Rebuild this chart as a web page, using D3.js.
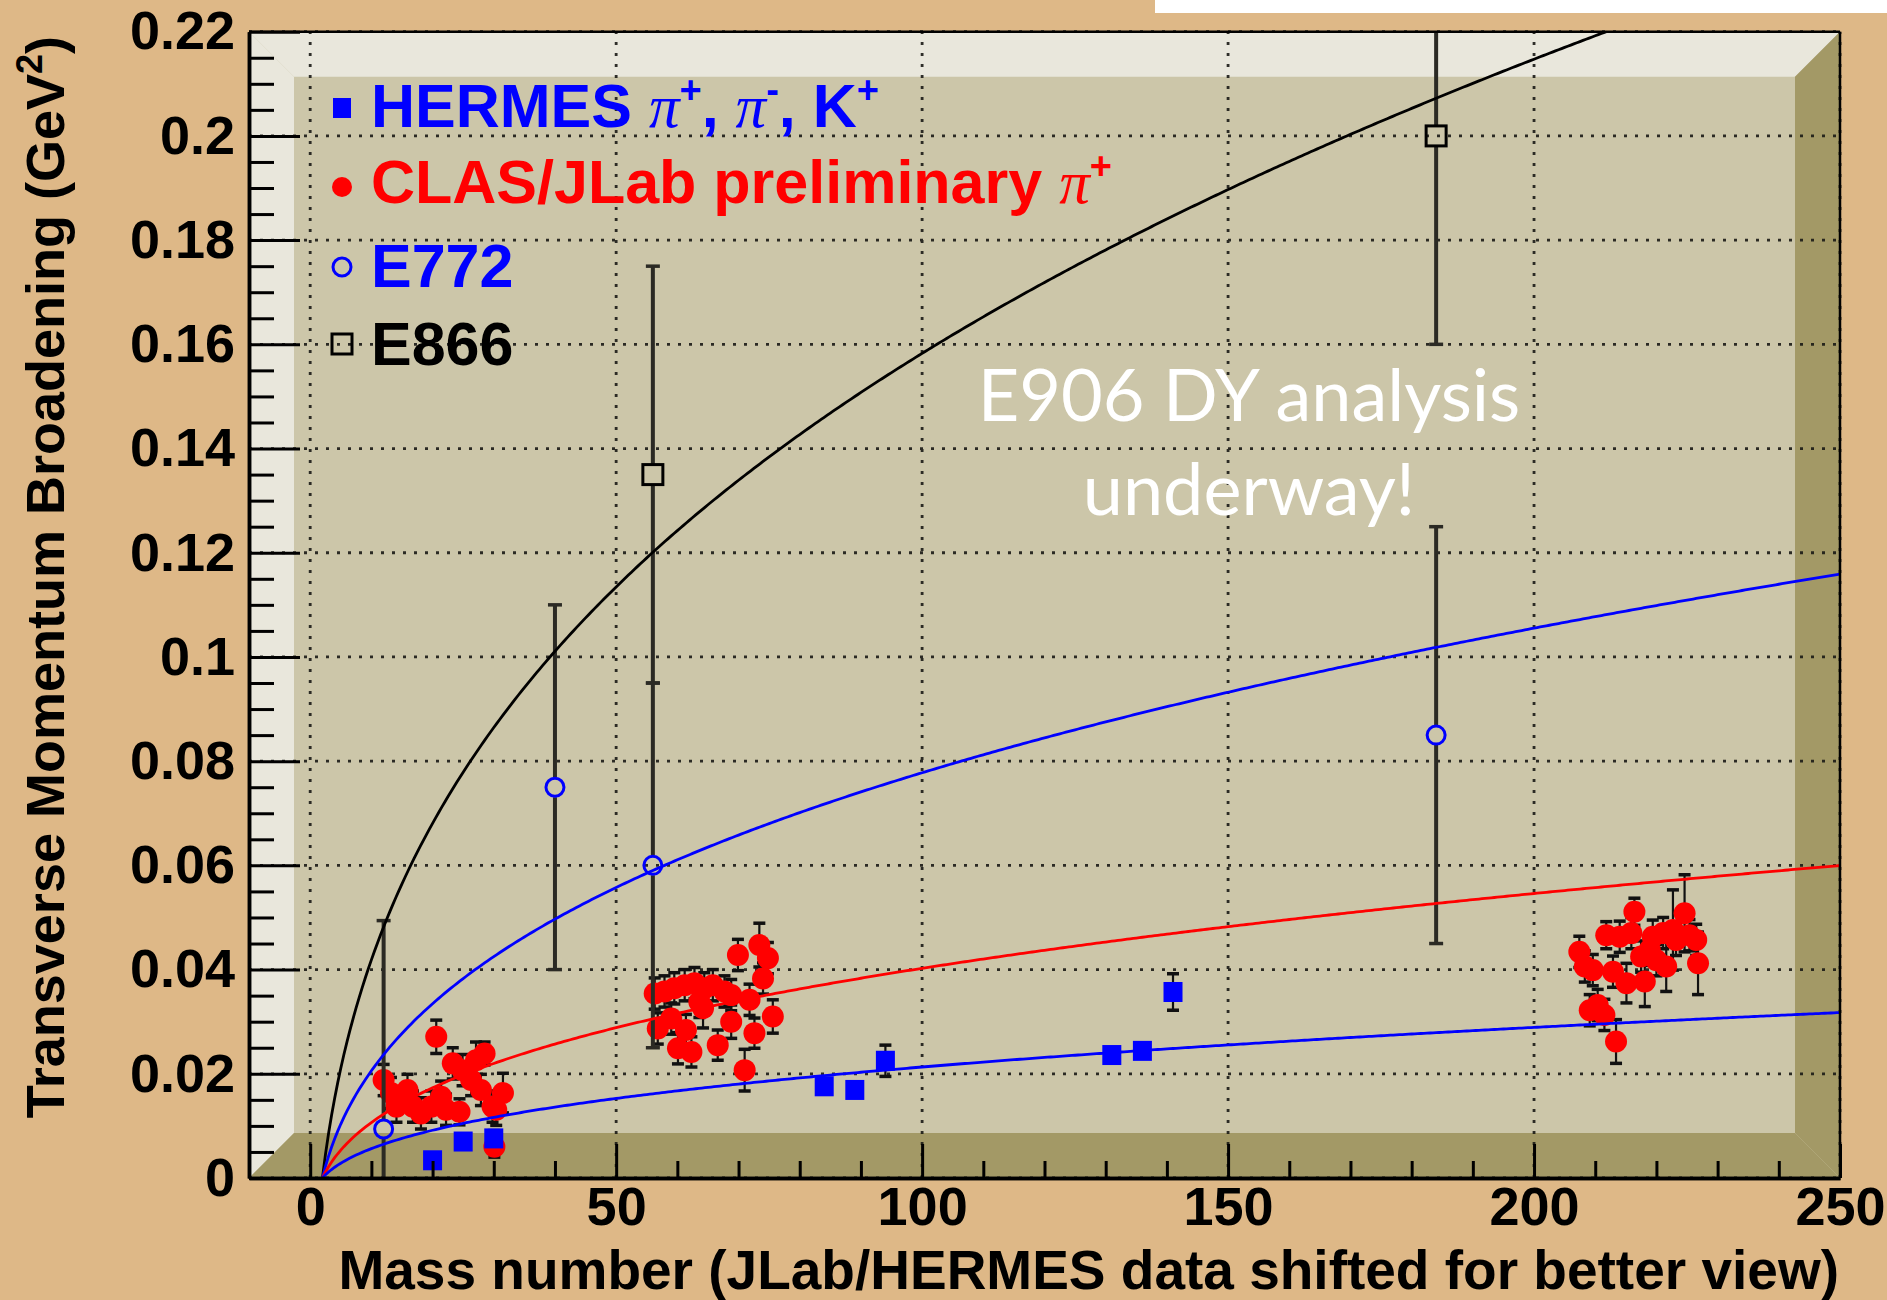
<!DOCTYPE html>
<html>
<head>
<meta charset="utf-8">
<script src="https://cdn.jsdelivr.net/npm/d3@7"></script>
<style>
  html, body { margin: 0; padding: 0; background: #DEB887; }
  svg { display: block; }
</style>
</head>
<body>
<svg id="chart" width="1887" height="1300"></svg>
<script>
// ---------------- data ----------------
const xTickValues = [0, 50, 100, 150, 200, 250];
const xTickLabels = ["0", "50", "100", "150", "200", "250"];
const yTickValues = [0, 0.02, 0.04, 0.06, 0.08, 0.1, 0.12, 0.14, 0.16, 0.18, 0.2, 0.22];
const yTickLabels = ["0", "0.02", "0.04", "0.06", "0.08", "0.1", "0.12", "0.14", "0.16", "0.18", "0.2", "0.22"];

// HERMES pi+, pi-, K+ (mass numbers shifted per hadron)
const hermesA   = [20, 25, 30, 84, 89, 94, 131, 136, 141];
const hermesY   = [0.0034, 0.0070, 0.0076, 0.0176, 0.0169, 0.0225, 0.0236, 0.0244, 0.0357];
const hermesErr = [0.001, 0.001, 0.0015, 0.001, 0.001, 0.003, 0.001, 0.001, 0.0035];

// CLAS/JLab preliminary pi+ (C, Fe, Pb bins, shifted along A)
const clasA = [
  12.0, 13.2, 14.1, 15.9, 16.8, 18.1, 19.8, 20.6, 21.4, 22.2, 23.3, 24.4, 24.9, 26.3, 27.1, 27.9, 28.5, 29.8, 30.4, 31.5, 30.1,
  56.3, 56.8, 57.9, 59.0, 59.5, 60.1, 61.2, 61.4, 62.3, 62.8, 63.6, 64.2, 64.4, 65.8, 66.6, 67.7, 68.8, 68.8, 69.9, 71.0, 71.8, 72.6, 73.4, 74.0, 74.8, 75.6,
  207.4, 208.3, 209.1, 209.6, 210.4, 211.5, 211.8, 212.9, 213.4, 214.0, 215.1, 215.9, 216.4, 217.5, 218.1, 218.9, 219.4, 220.0, 221.1, 221.6, 222.7, 223.2, 224.6, 225.4, 226.5, 226.8
];
const clasY = [
  0.0188, 0.0163, 0.0137, 0.0169, 0.0137, 0.0124, 0.0137, 0.0271, 0.0156, 0.0131, 0.0220, 0.0127, 0.0207, 0.0188, 0.0226, 0.0169, 0.0239, 0.0137, 0.0131, 0.0163, 0.0060,
  0.0354, 0.0287, 0.0358, 0.0306, 0.0364, 0.0249, 0.0370, 0.0284, 0.0242, 0.0374, 0.0338, 0.0326, 0.0364, 0.0370, 0.0255, 0.0358, 0.0351, 0.0300, 0.0428, 0.0207, 0.0342, 0.0278, 0.0447, 0.0383, 0.0422, 0.0310,
  0.0434, 0.0406, 0.0322, 0.0399, 0.0332, 0.0313, 0.0466, 0.0396, 0.0262, 0.0463, 0.0374, 0.0470, 0.0511, 0.0425, 0.0377, 0.0438, 0.0463, 0.0418, 0.0470, 0.0406, 0.0476, 0.0457, 0.0508, 0.0466, 0.0457, 0.0412
];
const clasErr = [
  0.003, 0.003, 0.003, 0.003, 0.003, 0.003, 0.003, 0.0032, 0.003, 0.003, 0.003, 0.0025, 0.003, 0.003, 0.0035, 0.003, 0.0022, 0.003, 0.003, 0.0038, 0.002,
  0.003, 0.003, 0.003, 0.003, 0.003, 0.003, 0.003, 0.003, 0.0029, 0.003, 0.003, 0.0038, 0.003, 0.003, 0.0029, 0.003, 0.003, 0.0032, 0.003, 0.004, 0.003, 0.0029, 0.0042, 0.003, 0.003, 0.0032,
  0.003, 0.003, 0.003, 0.003, 0.003, 0.003, 0.0026, 0.003, 0.0042, 0.003, 0.0038, 0.003, 0.0026, 0.003, 0.0048, 0.003, 0.0032, 0.003, 0.003, 0.0048, 0.0077, 0.003, 0.0074, 0.003, 0.003, 0.006
];

// Drell-Yan: E772 and E866
const e772A   = [12, 40, 56, 184];
const e772Y   = [0.0094, 0.075, 0.06, 0.085];
const e772Err = [0.04, 0.035, 0.035, 0.04];

const e866A   = [56, 184];
const e866Y   = [0.135, 0.2];
const e866Err = [0.04, 0.04];

// Broadening curves: c * (A^(1/3) - A0^(1/3)), starting at A0 = 2
const curveNames = ["E866", "E772", "CLAS", "HERMES"];
const curveCoeff = [0.0468, 0.0230, 0.0119, 0.0063];
const curveA0 = 2;
const curveAmax = 250;

const legendNames = ["HERMES", "CLAS/JLab preliminary", "E772", "E866"];
const xTitle = "Mass number (JLab/HERMES data shifted for better view)";
const yTitle = "Transverse Momentum Broadening (GeV";
const noteLines = ["E906 DY analysis", "underway!"];

// ---------------- styles ----------------
const colors = { HERMES: "#0000ff", CLAS: "#ff0000", E772: "#0000ff", E866: "#000000" };
const curveColors = { E866: "#000000", E772: "#0000ff", CLAS: "#ff0000", HERMES: "#0000ff" };
const SANS = "'Liberation Sans', Arial, Helvetica, sans-serif";
const SERIF = "'Liberation Serif', 'Times New Roman', serif";

// ---------------- layout ----------------
const svg = d3.select("#chart");
const W = 1887, H = 1300;
const L = 249, R = 1840, T = 31.7, B = 1178;
const bevel = 45;

const x = d3.scaleLinear().domain([-10, 250]).range([L, R]);
const y = d3.scaleLinear().domain([0, 0.22]).range([B, T]);

svg.append("rect").attr("width", W).attr("height", H).attr("fill", "#DEB887");
svg.append("rect").attr("x", 1155).attr("y", 0).attr("width", W - 1155).attr("height", 13).attr("fill", "#ffffff");

// frame with bevelled border
const frame = svg.append("g");
frame.append("rect").attr("x", L).attr("y", T).attr("width", R - L).attr("height", B - T).attr("fill", "#CCC6A9");
const poly = pts => pts.map(p => p.join(",")).join(" ");
frame.append("polygon").attr("fill", "#E9E7DC")
  .attr("points", poly([[L, T], [R, T], [R - bevel, T + bevel], [L + bevel, T + bevel]]));
frame.append("polygon").attr("fill", "#E9E7DC")
  .attr("points", poly([[L, T], [L + bevel, T + bevel], [L + bevel, B - bevel], [L, B]]));
frame.append("polygon").attr("fill", "#A39966")
  .attr("points", poly([[L, B], [L + bevel, B - bevel], [R - bevel, B - bevel], [R, B]]));
frame.append("polygon").attr("fill", "#A39966")
  .attr("points", poly([[R, T], [R, B], [R - bevel, B - bevel], [R - bevel, T + bevel]]));

// grid
const grid = svg.append("g").attr("stroke", "#1a1a16").attr("stroke-width", 2.8)
  .attr("stroke-dasharray", "3,8").attr("opacity", 0.9);
grid.selectAll("line.gx").data(xTickValues).join("line").attr("class", "gx")
  .attr("x1", d => x(d)).attr("x2", d => x(d)).attr("y1", B).attr("y2", T);
grid.selectAll("line.gy").data(yTickValues).join("line").attr("class", "gy")
  .attr("x1", L).attr("x2", R).attr("y1", d => y(d)).attr("y2", d => y(d));

// clip region for data and curves
svg.append("clipPath").attr("id", "plotClip")
  .append("rect").attr("x", L).attr("y", T).attr("width", R - L).attr("height", B - T);
const plot = svg.append("g").attr("clip-path", "url(#plotClip)");

// error bars
function errorBars(g, A, Y, E, opts) {
  const idx = d3.range(A.length);
  const gg = g.append("g").attr("stroke", opts.color);
  idx.forEach(i => {
    const cx = x(A[i]);
    const yTop = y(Y[i] + E[i]), yBot = y(Y[i] - E[i]);
    const yc = y(Y[i]);
    gg.append("line").attr("x1", cx).attr("x2", cx).attr("y1", yTop).attr("y2", yc - opts.gap).attr("stroke-width", opts.width);
    gg.append("line").attr("x1", cx).attr("x2", cx).attr("y1", yc + opts.gap).attr("y2", yBot).attr("stroke-width", opts.width);
    [yTop, yBot].forEach(yy => {
      gg.append("line").attr("x1", cx - opts.cap / 2).attr("x2", cx + opts.cap / 2)
        .attr("y1", yy).attr("y2", yy).attr("stroke-width", opts.capWidth);
    });
  });
}

// CLAS points
errorBars(plot, clasA, clasY, clasErr, { color: "#111", width: 2.2, gap: 0, cap: 12, capWidth: 3.5 });
plot.append("g").selectAll("circle").data(d3.range(clasA.length)).join("circle")
  .attr("cx", i => x(clasA[i])).attr("cy", i => y(clasY[i])).attr("r", 11)
  .attr("fill", colors.CLAS);

// HERMES points
errorBars(plot, hermesA, hermesY, hermesErr, { color: "#111", width: 2.2, gap: 0, cap: 12, capWidth: 3.5 });
plot.append("g").selectAll("rect").data(d3.range(hermesA.length)).join("rect")
  .attr("x", i => x(hermesA[i]) - 9.5).attr("y", i => y(hermesY[i]) - 10)
  .attr("width", 19).attr("height", 20).attr("fill", colors.HERMES);

// E772 and E866
errorBars(plot, e772A, e772Y, e772Err, { color: "#2b2a24", width: 4, gap: 10, cap: 14, capWidth: 3.5 });
errorBars(plot, e866A, e866Y, e866Err, { color: "#2b2a24", width: 4, gap: 10, cap: 14, capWidth: 3.5 });
plot.append("g").selectAll("circle").data(d3.range(e772A.length)).join("circle")
  .attr("cx", i => x(e772A[i])).attr("cy", i => y(e772Y[i])).attr("r", 9)
  .attr("fill", "none").attr("stroke", colors.E772).attr("stroke-width", 3);
plot.append("g").selectAll("rect").data(d3.range(e866A.length)).join("rect")
  .attr("x", i => x(e866A[i]) - 10).attr("y", i => y(e866Y[i]) - 10)
  .attr("width", 20).attr("height", 20)
  .attr("fill", "none").attr("stroke", colors.E866).attr("stroke-width", 3);

// broadening curves
const curveSamples = d3.range(curveA0, curveAmax + 0.001, 0.5);
const cbrtA0 = Math.cbrt(curveA0);
curveNames.forEach((name, k) => {
  const line = d3.line()
    .x(a => x(a))
    .y(a => y(curveCoeff[k] * (Math.cbrt(a) - cbrtA0)));
  plot.append("path").attr("d", line(curveSamples))
    .attr("fill", "none").attr("stroke", curveColors[name]).attr("stroke-width", 2.8);
});

// axes
const fmtX = d => xTickLabels[xTickValues.indexOf(d)];
const fmtY = d => yTickLabels[yTickValues.indexOf(d)];
const yMinor = d3.range(0, 0.2201, 0.005).filter(v => !yTickValues.some(t => Math.abs(t - v) < 1e-9));
const xMinor = d3.range(-10, 250.1, 10).filter(v => xTickValues.indexOf(v) < 0 && v > -10);

const yAxis = svg.append("g").attr("transform", `translate(${L},0)`)
  .call(d3.axisLeft(y).tickValues(yTickValues).tickFormat(fmtY).tickSize(-51).tickSizeOuter(0).tickPadding(14));
const yAxisMinor = svg.append("g").attr("transform", `translate(${L},0)`)
  .call(d3.axisLeft(y).tickValues(yMinor).tickFormat("").tickSize(-25).tickSizeOuter(0));
const xAxis = svg.append("g").attr("transform", `translate(0,${B})`)
  .call(d3.axisBottom(x).tickValues(xTickValues).tickFormat(fmtX).tickSize(-34).tickSizeOuter(0).tickPadding(9));
const xAxisMinor = svg.append("g").attr("transform", `translate(0,${B})`)
  .call(d3.axisBottom(x).tickValues(xMinor).tickFormat("").tickSize(-17).tickSizeOuter(0));

[yAxis, yAxisMinor, xAxis, xAxisMinor].forEach(g => {
  g.selectAll(".tick line").attr("stroke", "#000").attr("stroke-width", 3);
  g.select(".domain").attr("stroke", "#000").attr("stroke-width", 3.5);
  g.selectAll("text").attr("fill", "#000").attr("font-family", SANS)
    .attr("font-weight", "bold").attr("font-size", 54);
});

// frame top/right border
svg.append("line").attr("x1", L).attr("x2", R).attr("y1", T).attr("y2", T).attr("stroke", "#000").attr("stroke-width", 2.5);
svg.append("line").attr("x1", R).attr("x2", R).attr("y1", T).attr("y2", B).attr("stroke", "#000").attr("stroke-width", 2.5);

// axis titles
svg.append("text")
  .attr("x", 1839).attr("y", 1289).attr("text-anchor", "end")
  .attr("font-family", SANS).attr("font-weight", "bold").attr("font-size", 55).attr("fill", "#000")
  .text(xTitle);

const yt = svg.append("text")
  .attr("transform", "translate(64,36) rotate(-90)").attr("text-anchor", "end")
  .attr("font-family", SANS).attr("font-weight", "bold").attr("font-size", 54).attr("fill", "#000");
yt.append("tspan").text(yTitle);
yt.append("tspan").attr("dy", -22).attr("font-size", 36).text("2");
yt.append("tspan").attr("dy", 22).text(")");

// legend
function richText(sel, parts) {
  let shift = 0;
  parts.forEach(p => {
    const ts = sel.append("tspan");
    const target = p.sup ? -24 : 0;
    if (target !== shift) { ts.attr("dy", target - shift); shift = target; }
    if (p.sup) ts.attr("font-size", 38);
    if (p.greek) ts.attr("font-family", SERIF).attr("font-style", "italic").attr("font-weight", "normal");
    ts.text(p.t);
  });
}
const legendRows = [
  [{ t: legendNames[0] + " " }, { t: "π", greek: true }, { t: "+", sup: true }, { t: ", " }, { t: "π", greek: true }, { t: "-", sup: true }, { t: ", K" }, { t: "+", sup: true }],
  [{ t: legendNames[1] + " " }, { t: "π", greek: true }, { t: "+", sup: true }],
  [{ t: legendNames[2] }],
  [{ t: legendNames[3] }]
];
const legendKeys = ["HERMES", "CLAS", "E772", "E866"];
const legendBase = [127, 203, 287, 365];
const legendMarkY = [108, 187, 267, 344];
const legend = svg.append("g");
legendKeys.forEach((key, i) => {
  const mx = 342, my = legendMarkY[i];
  if (key === "HERMES") legend.append("rect").attr("x", mx - 9).attr("y", my - 10).attr("width", 18).attr("height", 20).attr("fill", colors.HERMES);
  if (key === "CLAS") legend.append("circle").attr("cx", mx).attr("cy", my).attr("r", 10).attr("fill", colors.CLAS);
  if (key === "E772") legend.append("circle").attr("cx", mx).attr("cy", my).attr("r", 9).attr("fill", "none").attr("stroke", colors.E772).attr("stroke-width", 3);
  if (key === "E866") legend.append("rect").attr("x", mx - 10).attr("y", my - 10).attr("width", 20).attr("height", 20).attr("fill", "none").attr("stroke", colors.E866).attr("stroke-width", 3);
  const t = legend.append("text").attr("x", 371).attr("y", legendBase[i])
    .attr("font-family", SANS).attr("font-weight", "bold").attr("font-size", 61).attr("fill", colors[key]);
  richText(t, legendRows[i]);
});

// annotation
const note = svg.append("text").attr("text-anchor", "middle").attr("fill", "#ffffff")
  .attr("font-family", "Lato, 'Open Sans', sans-serif").attr("font-size", 72);
noteLines.forEach((s, i) => {
  note.append("tspan").attr("x", 1249).attr("y", 421 + i * 94).text(s);
});
</script>
</body>
</html>
